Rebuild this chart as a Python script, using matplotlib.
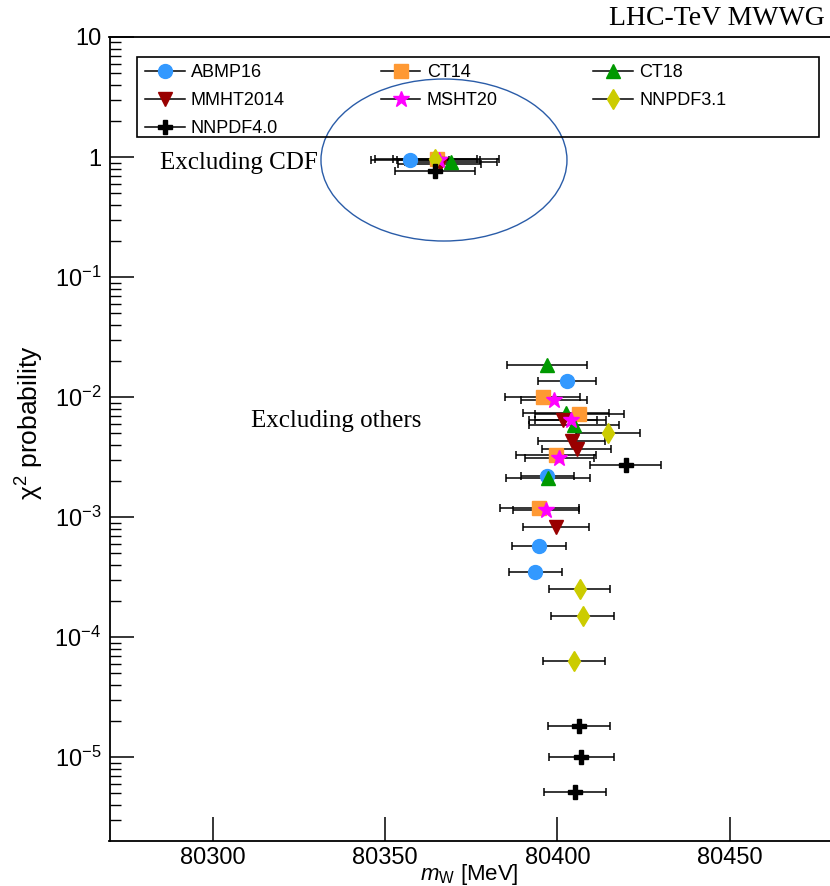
import numpy as np
import matplotlib.pyplot as plt
from matplotlib.patches import Ellipse, Rectangle
from matplotlib.lines import Line2D
from matplotlib.ticker import FixedLocator, FuncFormatter, NullFormatter

plt.rcParams['font.family'] = ['Liberation Sans', 'DejaVu Sans']
plt.rcParams['mathtext.fontset'] = 'custom'
plt.rcParams['mathtext.rm'] = 'Liberation Sans'
plt.rcParams['mathtext.it'] = 'Liberation Sans:italic'

# PDF sets and their markers
pdfs = ['ABMP16', 'CT14', 'CT18', 'MMHT2014', 'MSHT20', 'NNPDF3.1', 'NNPDF4.0']
colors = ['#3399ff', '#ff9933', '#009900', '#990000', '#ff00ff', '#cccc00', 'black']
markers = ['o', 's', '^', 'v', '*', 'd', 'P']

# first value in each list = "Excluding CDF", the rest = "Excluding others"
mw = {
    'ABMP16':   [80357.3, 80402.8, 80397.0, 80394.7, 80393.6],
    'CT14':     [80365.1, 80395.8, 80406.4, 80399.6, 80394.8],
    'CT18':     [80369.2, 80397.0, 80402.5, 80404.9, 80397.2],
    'MMHT2014': [80365.8, 80401.6, 80404.2, 80405.6, 80399.7],
    'MSHT20':   [80365.5, 80399.0, 80403.9, 80400.6, 80396.6],
    'NNPDF3.1': [80364.5, 80414.7, 80406.5, 80407.3, 80404.9],
    'NNPDF4.0': [80364.4, 80419.9, 80406.3, 80407.0, 80405.1],
}
mw_err = {
    'ABMP16':   [11.3, 8.3, 7.7, 7.8, 7.7],
    'CT14':     [18.0, 10.9, 12.8, 11.6, 11.4],
    'CT18':     [13.3, 11.5, 12.4, 13.0, 12.2],
    'MMHT2014': [12.1, 9.9, 9.7, 10.1, 9.6],
    'MSHT20':   [12.0, 9.5, 10.3, 10.1, 9.6],
    'NNPDF3.1': [12.1, 9.3, 8.8, 9.2, 9.0],
    'NNPDF4.0': [11.6, 10.3, 8.9, 9.4, 9.1],
}
prob = {
    'ABMP16':   [0.95, 0.0136, 0.0022, 0.00057, 0.00035],
    'CT14':     [0.97, 0.0101, 0.0072, 0.0033, 0.0012],
    'CT18':     [0.91, 0.0185, 0.0074, 0.0059, 0.0021],
    'MMHT2014': [0.88, 0.0064, 0.0043, 0.0037, 0.00083],
    'MSHT20':   [0.94, 0.0094, 0.0065, 0.0031, 0.00115],
    'NNPDF3.1': [0.96, 0.0050, 0.00025, 0.00015, 6.3e-5],
    'NNPDF4.0': [0.77, 0.0027, 1.8e-5, 1.0e-5, 5.1e-6],
}

xticks = [80300, 80350, 80400, 80450]
yticks = [1e-5, 1e-4, 1e-3, 1e-2, 1e-1, 1, 10]

fig = plt.figure(figsize=(8.3, 8.86), dpi=100)
ax = fig.add_axes([109.5 / 830, 45 / 886, 723.5 / 830, 804 / 886])

for i, p in enumerate(pdfs):
    ms = 12 if markers[i] == '*' else 10
    ax.errorbar(mw[p], prob[p], xerr=mw_err[p], fmt=markers[i], color=colors[i],
                ms=ms, mec=colors[i], ecolor='black', elinewidth=1.1,
                capsize=3, capthick=1.1, zorder=3)

ax.set_yscale('log')
ax.set_xlim(80270, 80480)
ax.set_ylim(2e-6, 10)

ax.xaxis.set_major_locator(FixedLocator(xticks))
ax.yaxis.set_major_locator(FixedLocator(yticks))
minor = [m * 10.0 ** e for e in range(-6, 1) for m in range(2, 10) if m * 10.0 ** e > 2e-6]
ax.yaxis.set_minor_locator(FixedLocator(minor))
ax.yaxis.set_minor_formatter(NullFormatter())

def ylab(v, pos):
    if v >= 1:
        return '%d' % round(v)
    return r'$10^{%d}$' % round(np.log10(v))

ax.yaxis.set_major_formatter(FuncFormatter(ylab))
ax.tick_params(axis='both', which='both', direction='in', labelsize=17)
ax.tick_params(axis='x', which='major', length=17, width=1.1, pad=4)
ax.tick_params(axis='y', which='major', length=17, width=1.1, pad=6)
ax.tick_params(axis='y', which='minor', length=8, width=1.0)
ax.tick_params(axis='x', which='minor', bottom=False)
for s in ax.spines.values():
    s.set_linewidth(1.3)

ax.set_xlabel(r'$m_{\rm W}$ [MeV]', fontsize=16)
ax.xaxis.set_label_coords(0.497, -0.0265)
ax.set_ylabel(r'$\mathrm{\chi}^{2}$ probability', fontsize=19)
ax.yaxis.set_label_coords(-0.088, 0.52)

ax.text(0.07, 0.843, 'Excluding CDF', transform=ax.transAxes, fontsize=18,
        family='Liberation Serif', va='center')
ax.text(0.196, 0.523, 'Excluding others', transform=ax.transAxes, fontsize=18,
        family='Liberation Serif', va='center')
fig.text(0.994, 0.979, 'LHC-TeV MWWG', fontsize=20, family='Liberation Serif',
         ha='right', va='center')

ax.add_patch(Ellipse((0.4623, 0.847), 0.340, 0.2015, transform=ax.transAxes,
                     fill=False, edgecolor='#2a5ca8', lw=1.0, zorder=4))

# legend filled row by row like the original, frame drawn separately
order = [0, 3, 6, 1, 4, 2, 5]
handles = [Line2D([], [], color='black', lw=1.1, marker=markers[i],
                  mfc=colors[i], mec=colors[i],
                  ms=12 if markers[i] == '*' else 10) for i in order]
labels = [pdfs[i] for i in order]
leg = ax.legend(handles, labels, ncol=3, loc='upper left',
                bbox_to_anchor=(0.049, 0.966), fontsize=13, frameon=False,
                handlelength=2.2, borderaxespad=0, borderpad=0,
                labelspacing=0.6, handletextpad=0.35, columnspacing=5.3)
ax.add_patch(Rectangle((0.038, 0.8756), 0.9427, 0.1, transform=ax.transAxes,
                       fill=False, edgecolor='black', lw=1.2, zorder=5))

plt.savefig('out.png', dpi=100)
